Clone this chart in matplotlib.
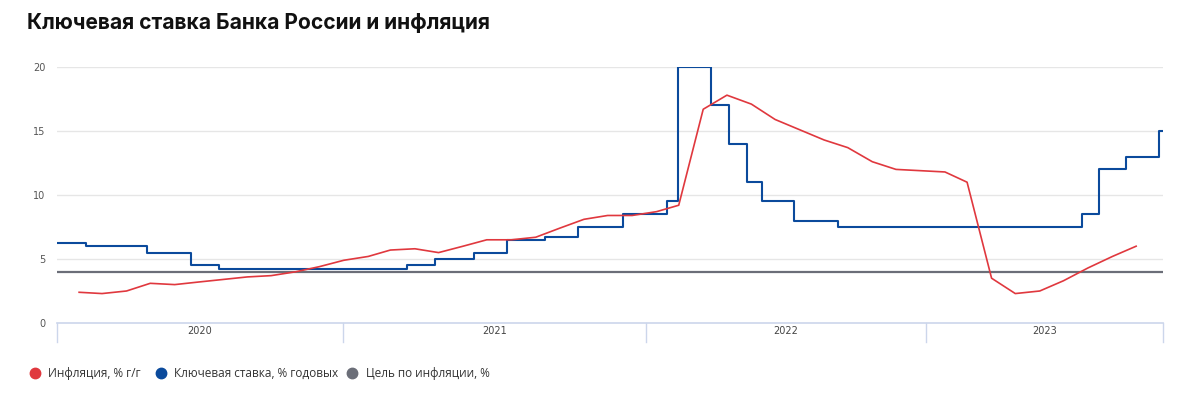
import numpy as np
import pandas as pd
import matplotlib
matplotlib.use("Agg")
import matplotlib.pyplot as plt
import matplotlib.transforms as mtransforms
from matplotlib.lines import Line2D

# key rate decisions (date the new rate took effect), % annual
rate_dates = ["2019-12-16", "2020-02-10", "2020-04-27", "2020-06-22", "2020-07-27",
              "2021-03-22", "2021-04-26", "2021-06-15", "2021-07-26", "2021-09-13",
              "2021-10-25", "2021-12-20", "2022-02-14", "2022-02-28", "2022-04-11",
              "2022-05-04", "2022-05-27", "2022-06-14", "2022-07-25", "2022-09-19",
              "2023-07-24", "2023-08-15", "2023-09-18", "2023-10-30", "2023-11-10"]
rate_values = [6.25, 6.0, 5.5, 4.5, 4.25,
               4.5, 5.0, 5.5, 6.5, 6.75,
               7.5, 8.5, 9.5, 20.0, 17.0,
               14.0, 11.0, 9.5, 8.0, 7.5,
               8.5, 12.0, 13.0, 15.0, 15.0]

# CPI inflation, % y/y, monthly Jan 2020 .. Sep 2023 (plotted at month end)
infl_2020 = [2.4, 2.3, 2.5, 3.1, 3.0, 3.2, 3.4, 3.6, 3.7, 4.0, 4.4, 4.9]
infl_2021 = [5.2, 5.7, 5.8, 5.5, 6.0, 6.5, 6.5, 6.7, 7.4, 8.1, 8.4, 8.4]
infl_2022 = [8.7, 9.2, 16.7, 17.8, 17.1, 15.9, 15.1, 14.3, 13.7, 12.6, 12.0, 11.9]
infl_2023 = [11.8, 11.0, 3.5, 2.3, 2.5, 3.3, 4.3, 5.2, 6.0]

target = 4.0

years = ["2020", "2021", "2022", "2023"]
year_edges = ["2020-01-04", "2020-12-31", "2022-01-19", "2023-01-08", "2023-11-04"]

series_names = ["Инфляция, % г/г", "Ключевая ставка, % годовых", "Цель по инфляции, %"]

RED = "#e0383e"
BLUE = "#0b4a9c"
GREY = "#6b6e78"


def main():
    infl = infl_2020 + infl_2021 + infl_2022 + infl_2023
    infl_dates = pd.period_range("2020-01", periods=len(infl), freq="M").to_timestamp(how="end")
    rdates = pd.to_datetime(rate_dates)
    edges = pd.to_datetime(year_edges)

    fig = plt.figure(figsize=(12, 3.99), dpi=100)
    ax = fig.add_axes([57 / 1200, 1 - 323 / 399, (1163 - 57) / 1200, 256 / 399])

    fig.text(27 / 1200, 1 - 23 / 399, "Ключевая ставка Банка России и инфляция",
             fontsize=15.1, fontweight="bold", family="Inter", color="#111111", va="center")

    for v in [5, 10, 15, 20]:
        ax.axhline(v, color="#e6e6e6", lw=1, zorder=0)

    ax.axhline(target, color=GREY, lw=1.6, zorder=2)
    ax.plot(rdates, rate_values, drawstyle="steps-post", color=BLUE, lw=1.5, zorder=3)
    ax.plot(infl_dates, infl, color=RED, lw=1.2, zorder=4)

    ax.set_xlim(edges[0], edges[-1])
    ax.set_ylim(0, 20)
    ax.set_yticks([0, 5, 10, 15, 20])
    ax.tick_params(axis="y", length=0, pad=8.5, labelsize=7, labelcolor="#555555")
    ax.set_xticks([])
    for s in ["top", "right", "left"]:
        ax.spines[s].set_visible(False)
    ax.spines["bottom"].set_color("#ccd6eb")
    ax.spines["bottom"].set_linewidth(1.2)

    # grouped year bands under the axis
    trans = mtransforms.blended_transform_factory(ax.transData, ax.transAxes)
    for e in edges:
        ax.axvline(e, ymin=-19 / 256, ymax=0, color="#ccd6eb", lw=1, clip_on=False)
    for i, y in enumerate(years):
        mid = edges[i] + (edges[i + 1] - edges[i]) / 2
        ax.text(mid, -8.5 / 256, y, transform=trans, ha="center", va="center",
                fontsize=7, color="#444444")

    # legend row
    ly = 1 - 373 / 399
    for c, name, xc, xt in zip((RED, BLUE, GREY), series_names, (35, 161, 352), (48, 174, 366)):
        fig.add_artist(Line2D([xc / 1200], [ly], ls="none", marker="o", ms=7.5,
                              color=c, transform=fig.transFigure))
        fig.text(xt / 1200, ly, name, va="center", ha="left", family="Open Sans",
                 fontsize=8.5, color="#333333")

    fig.savefig("out.png", dpi=100)


if __name__ == "__main__":
    main()
